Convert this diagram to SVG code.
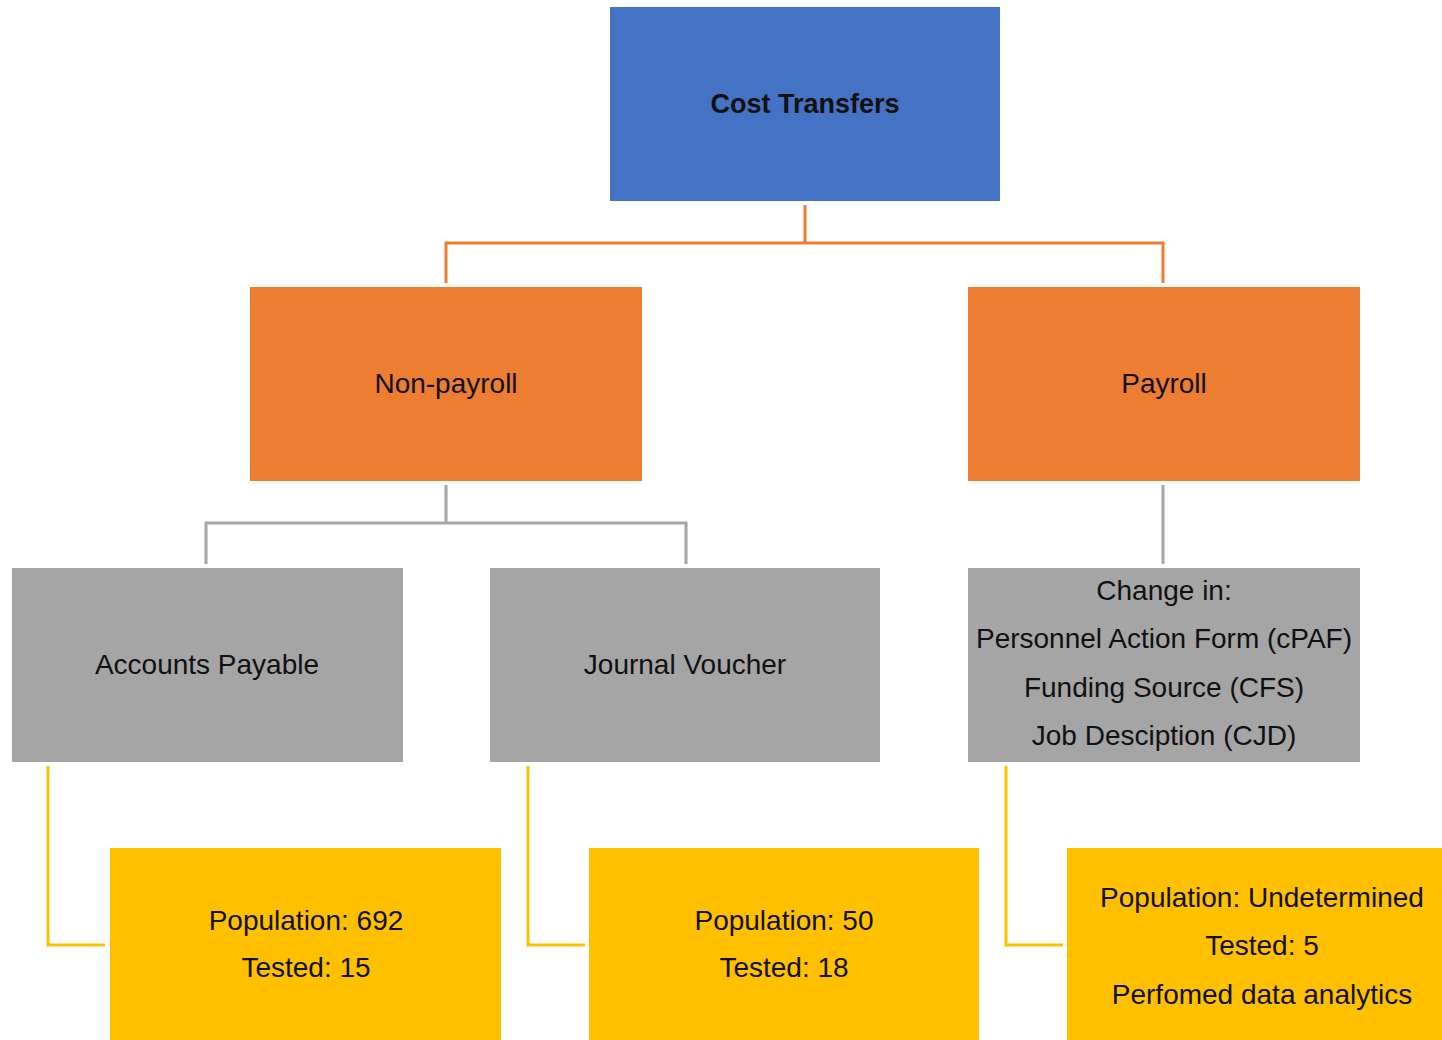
<svg xmlns="http://www.w3.org/2000/svg" width="1442" height="1040" viewBox="0 0 1442 1040">
<style>
text{font-family:"Liberation Sans",Arial,sans-serif;font-size:28px;fill:#111;text-anchor:middle}
.t{font-weight:bold;font-size:27px}
.blue{fill:#4472C4}
.orange{fill:#ED7D31}
.gray{fill:#A5A5A5}
.yellow{fill:#FFC000}
.co{stroke:#ED7D31}
.cg{stroke:#A5A5A5}
.cy{stroke:#FFC000}
#connectors path{fill:none;stroke-width:3}
</style>
<rect width="1442" height="1040" fill="#fff"/>
<g id="connectors">
<path class="co" d="M805 205V243M446 283V243H1163V283"/>
<path class="cg" d="M446 485V523M206 564V523H686V564"/>
<path class="cg" d="M1163 485V564"/>
<path class="cy" d="M48 766V945H105"/>
<path class="cy" d="M528 766V945H585"/>
<path class="cy" d="M1006 766V945H1063"/>
</g>
<g id="cost-transfers"><rect class="blue" x="610" y="7" width="390" height="194"/><text class="t" x="805" y="113">Cost Transfers</text></g>
<g id="non-payroll"><rect class="orange" x="250" y="287" width="392" height="194"/><text x="446" y="393">Non-payroll</text></g>
<g id="payroll"><rect class="orange" x="968" y="287" width="392" height="194"/><text x="1164" y="393">Payroll</text></g>
<g id="accounts-payable"><rect class="gray" x="12" y="568" width="391" height="194"/><text x="207" y="674">Accounts Payable</text></g>
<g id="journal-voucher"><rect class="gray" x="490" y="568" width="390" height="194"/><text x="685" y="674">Journal Voucher</text></g>
<g id="change-in"><rect class="gray" x="968" y="568" width="392" height="194"/>
<text x="1164" y="600">Change in:</text>
<text x="1164" y="648">Personnel Action Form (cPAF)</text>
<text x="1164" y="697">Funding Source (CFS)</text>
<text x="1164" y="745">Job Desciption (CJD)</text></g>
<g id="ap-result"><rect class="yellow" x="110" y="848" width="391" height="192"/>
<text x="306" y="930">Population: 692</text>
<text x="306" y="977">Tested: 15</text></g>
<g id="jv-result"><rect class="yellow" x="589" y="848" width="390" height="192"/>
<text x="784" y="930">Population: 50</text>
<text x="784" y="977">Tested: 18</text></g>
<g id="payroll-result"><rect class="yellow" x="1067" y="848" width="375" height="192"/>
<text x="1262" y="907">Population: Undetermined</text>
<text x="1262" y="955">Tested: 5</text>
<text x="1262" y="1004">Perfomed data analytics</text></g>
</svg>
